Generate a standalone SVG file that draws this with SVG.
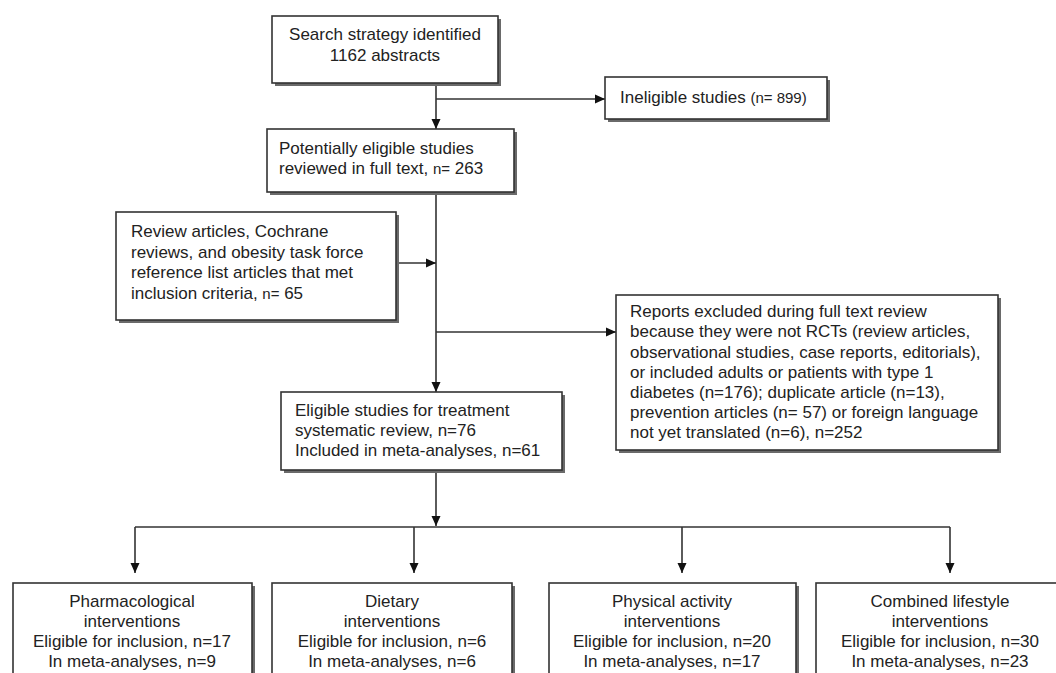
<svg xmlns="http://www.w3.org/2000/svg" width="1056" height="673" viewBox="0 0 1056 673">
<style>
.box{fill:#fff;stroke:#333;stroke-width:1.6}
.sh{fill:#6a6a6a}
text{font-family:"Liberation Sans",Arial,sans-serif;font-size:17px;fill:#222}
.c{text-anchor:middle}
.s{font-size:15px}
.ln{stroke:#333;stroke-width:1.6;fill:none}
</style>
<defs>
<marker id="ah" viewBox="0 0 10 10" refX="10" refY="5" markerWidth="10" markerHeight="10" markerUnits="userSpaceOnUse" orient="auto">
<path d="M0,0.5 L10,5 L0,9.5 Z" fill="#111"/>
</marker>
</defs>
<rect width="1056" height="673" fill="#fff"/>
<g id="connectors">
<line class="ln" x1="436" y1="83" x2="436" y2="129" marker-end="url(#ah)"/>
<line class="ln" x1="436" y1="99" x2="605" y2="99" marker-end="url(#ah)"/>
<line class="ln" x1="436" y1="192" x2="436" y2="392" marker-end="url(#ah)"/>
<line class="ln" x1="396" y1="263" x2="436" y2="263" marker-end="url(#ah)"/>
<line class="ln" x1="436" y1="332" x2="616" y2="332" marker-end="url(#ah)"/>
<line class="ln" x1="436" y1="470" x2="436" y2="526" marker-end="url(#ah)"/>
<line class="ln" x1="135" y1="527" x2="950" y2="527"/>
<line class="ln" x1="135" y1="527" x2="135" y2="573" marker-end="url(#ah)"/>
<line class="ln" x1="414" y1="527" x2="414" y2="573" marker-end="url(#ah)"/>
<line class="ln" x1="682" y1="527" x2="682" y2="573" marker-end="url(#ah)"/>
<line class="ln" x1="950" y1="527" x2="950" y2="573" marker-end="url(#ah)"/>
</g>
<g id="search">
<rect class="sh" x="275" y="19" width="226" height="67"/>
<rect class="box" x="272" y="16" width="226" height="67"/>
<text class="c" x="385" y="40">Search strategy identified</text>
<text class="c" x="385" y="61">1162 abstracts</text>
</g>
<g id="ineligible">
<rect class="sh" x="608" y="80" width="222" height="42"/>
<rect class="box" x="605" y="77" width="222" height="42"/>
<text x="620" y="103">Ineligible studies <tspan class="s">(n= 899)</tspan></text>
</g>
<g id="potential">
<rect class="sh" x="270" y="132" width="247" height="63"/>
<rect class="box" x="267" y="129" width="247" height="63"/>
<text x="279" y="154">Potentially eligible studies</text>
<text x="279" y="174">reviewed in full text, <tspan class="s">n=</tspan> 263</text>
</g>
<g id="review">
<rect class="sh" x="119" y="215" width="280" height="108"/>
<rect class="box" x="116" y="212" width="280" height="108"/>
<text x="131" y="237">Review articles, Cochrane</text>
<text x="131" y="258">reviews, and obesity task force</text>
<text x="131" y="278">reference list articles that met</text>
<text x="131" y="299">inclusion criteria, <tspan class="s">n=</tspan> 65</text>
</g>
<g id="excluded">
<rect class="sh" x="619" y="298" width="382" height="155"/>
<rect class="box" x="616" y="295" width="382" height="155"/>
<text x="630" y="317">Reports excluded during full text review</text>
<text x="630" y="337">because they were not RCTs (review articles,</text>
<text x="630" y="358">observational studies, case reports, editorials),</text>
<text x="630" y="378">or included adults or patients with type 1</text>
<text x="630" y="398">diabetes (n=176); duplicate article (n=13),</text>
<text x="630" y="418">prevention articles (n= 57) or foreign language</text>
<text x="630" y="438">not yet translated (n=6), n=252</text>
</g>
<g id="eligible">
<rect class="sh" x="284" y="395" width="281" height="78"/>
<rect class="box" x="281" y="392" width="281" height="78"/>
<text x="295" y="416">Eligible studies for treatment</text>
<text x="295" y="436">systematic review, n=76</text>
<text x="295" y="456">Included in meta-analyses, n=61</text>
</g>
<g id="pharm">
<rect class="sh" x="16" y="586" width="239" height="110"/>
<rect class="box" x="13" y="583" width="239" height="110"/>
<text class="c" x="132" y="607">Pharmacological</text>
<text class="c" x="132" y="627">interventions</text>
<text class="c" x="132" y="647">Eligible for inclusion, n=17</text>
<text class="c" x="132" y="667">In meta-analyses, n=9</text>
</g>
<g id="diet">
<rect class="sh" x="275" y="586" width="240" height="110"/>
<rect class="box" x="272" y="583" width="240" height="110"/>
<text class="c" x="392" y="607">Dietary</text>
<text class="c" x="392" y="627">interventions</text>
<text class="c" x="392" y="647">Eligible for inclusion, n=6</text>
<text class="c" x="392" y="667">In meta-analyses, n=6</text>
</g>
<g id="physical">
<rect class="sh" x="552" y="586" width="247" height="110"/>
<rect class="box" x="549" y="583" width="247" height="110"/>
<text class="c" x="672" y="607">Physical activity</text>
<text class="c" x="672" y="627">interventions</text>
<text class="c" x="672" y="647">Eligible for inclusion, n=20</text>
<text class="c" x="672" y="667">In meta-analyses, n=17</text>
</g>
<g id="combined">
<rect class="sh" x="819" y="586" width="250" height="110"/>
<rect class="box" x="816" y="583" width="250" height="110"/>
<text class="c" x="940" y="607">Combined lifestyle</text>
<text class="c" x="940" y="627">interventions</text>
<text class="c" x="940" y="647">Eligible for inclusion, n=30</text>
<text class="c" x="940" y="667">In meta-analyses, n=23</text>
</g>
</svg>
